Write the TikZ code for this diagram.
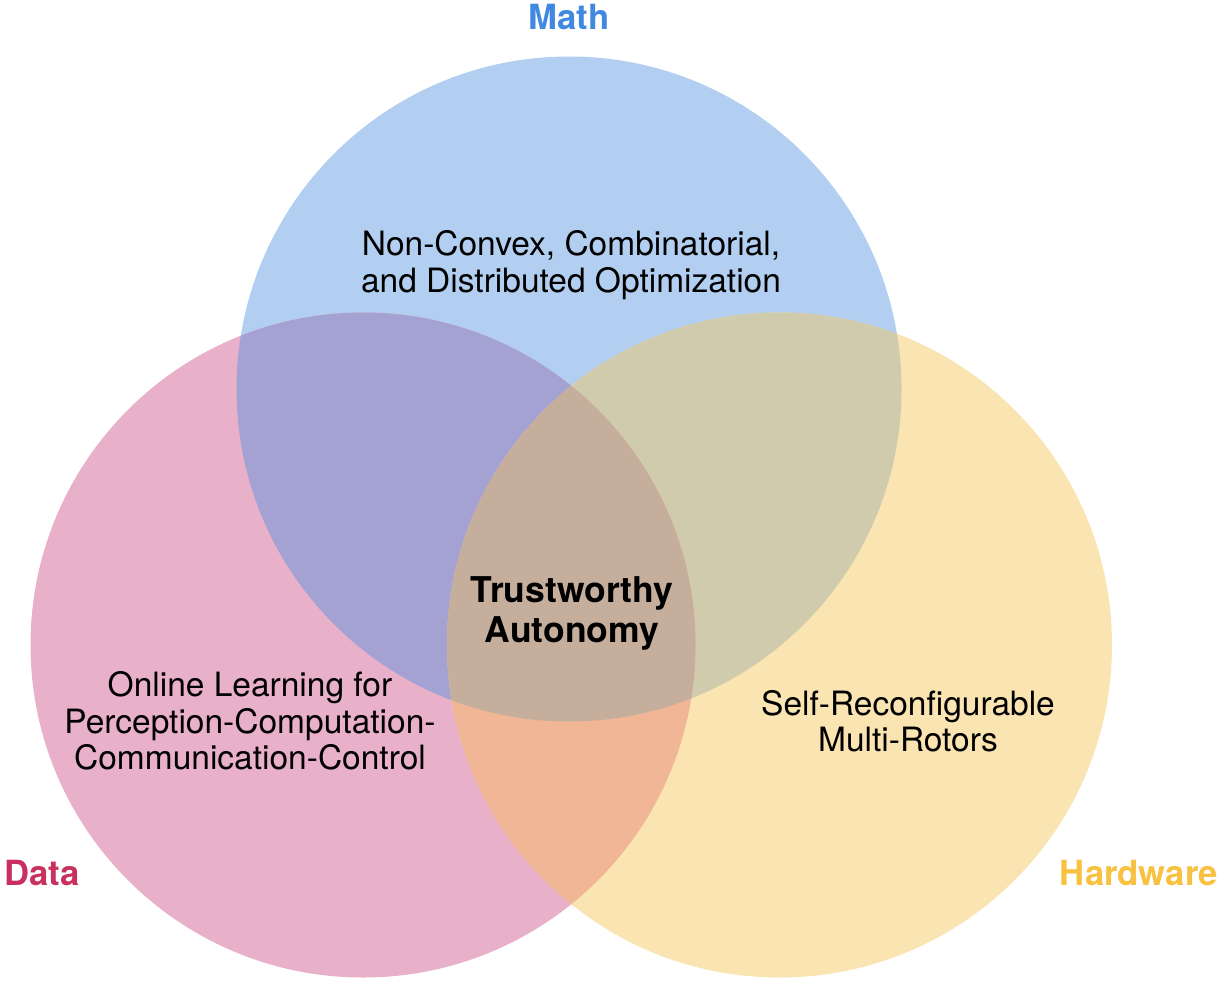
\documentclass[tikz,border=0pt]{standalone}
\usepackage{fontspec}
\setmainfont{TeX Gyre Heros}
\definecolor{cB}{HTML}{B2CFF1}
\definecolor{cP}{HTML}{E8B0C9}
\definecolor{cY}{HTML}{FAE5B2}
\definecolor{cBP}{HTML}{A4A2D3}
\definecolor{cBY}{HTML}{CFCBAC}
\definecolor{cPY}{HTML}{F0B696}
\definecolor{cBPY}{HTML}{C5AE9C}
\definecolor{tMath}{HTML}{4189E0}
\definecolor{tData}{HTML}{C8305F}
\definecolor{tHard}{HTML}{F8C140}
\tikzset{
  body/.style={align=center, font=\fontsize{33.5}{36.5}\selectfont, inner sep=0pt},
  core/.style={align=center, font=\fontsize{35.5}{40}\selectfont\bfseries, inner sep=0pt},
  setlabel/.style={font=\fontsize{34.7}{37}\selectfont\bfseries, inner sep=0pt},
}
\begin{document}
\begin{tikzpicture}[x=1pt,y=-1pt]
\useasboundingbox (0,0) rectangle (1223,982);
\fill[white] (0,0) rectangle (1223,982);
\coordinate (cb) at (569,389);
\coordinate (cp) at (363,645);
\coordinate (cy) at (779.5,645);
\def\R{332.5}
\fill[cB] (cb) circle (\R);
\fill[cP] (cp) circle (\R);
\fill[cY] (cy) circle (\R);
\begin{scope}
  \clip (cb) circle (\R);
  \fill[cBP] (cp) circle (\R);
  \fill[cBY] (cy) circle (\R);
\end{scope}
\begin{scope}
  \clip (cp) circle (\R);
  \fill[cPY] (cy) circle (\R);
\end{scope}
\begin{scope}
  \clip (cb) circle (\R);
  \clip (cp) circle (\R);
  \fill[cBPY] (cy) circle (\R);
\end{scope}
\node[setlabel, text=tMath] (math) at (569,17) {Math};
\node[setlabel, text=tData] (data) at (42,873) {Data};
\node[setlabel, text=tHard] (hard) at (1139,873) {Hardware};
\node[body] (opt) at (571,265) {Non-Convex, Combinatorial,\\and Distributed Optimization};
\node[core] (trust) at (572,613) {Trustworthy\\Autonomy};
\node[body] (learn) at (250,721) {Online Learning for\\Perception-Computation-\\Communication-Control};
\node[body] (rotor) at (908,721) {Self-Reconfigurable\\Multi-Rotors};
\end{tikzpicture}
\end{document}
